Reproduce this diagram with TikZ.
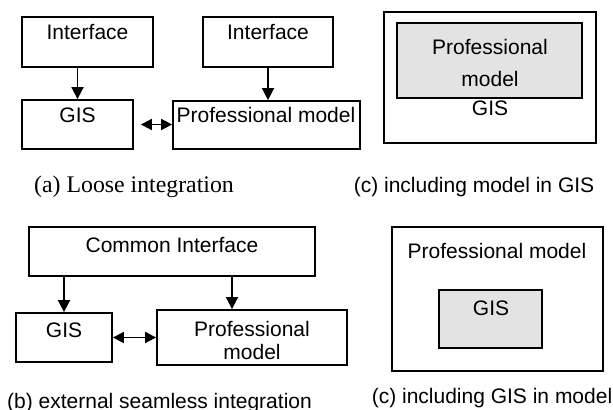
\documentclass[tikz,border=0pt]{standalone}
\usepackage{fontspec}
\setmainfont{Liberation Sans}
\newfontfamily\timesfont{Liberation Serif}
\usepackage{xcolor}
\usetikzlibrary{arrows.meta}

\begin{document}
\begin{tikzpicture}[x=0.5pt,y=-0.5pt,
  box/.style={draw,line width=0.9pt,inner sep=0pt},
  grey/.style={box,fill=black!11},
  arr/.style={line width=0.9pt,-{Triangle[length=6pt,width=6pt]}},
  dblarr/.style={line width=0.9pt,{Triangle[length=5.5pt,width=5.5pt]}-{Triangle[length=5.5pt,width=5.5pt]}},
  lbl/.style={font=\fontsize{10.5}{12}\selectfont,inner sep=0pt,align=center}]
\useasboundingbox (0,0) rectangle (613,410);

% (a) loose integration
\node[box,minimum width=65.5pt,minimum height=25pt] (ifa) at (87.5,42) {};
\node[box,minimum width=55.5pt,minimum height=24.5pt] (gisa) at (77.5,124.5) {};
\node[box,minimum width=65pt,minimum height=25pt] (ifb) at (268,42) {};
\node[box,minimum width=93.5pt,minimum height=24pt] (proa) at (266.5,125) {};
\node[lbl] (ifa-t) at (87.5,32) {Interface};
\node[lbl] (gisa-t) at (77.5,115) {GIS};
\node[lbl] (ifb-t) at (268,32) {Interface};
\node[lbl] (proa-t) at (266,115) {Professional model};
\draw[arr] (ifa.south -| gisa.north) -- (gisa.north);
\draw[arr] (ifb.south) -- (ifb.south |- proa.north);
\draw[dblarr] ([xshift=3.5pt]gisa.east) -- (proa.west |- gisa.east);
\node[inner sep=0pt,font=\timesfont\fontsize{11.9}{14}\selectfont] (capa) at (134,187) {(a) Loose integration};

% (c) model in GIS
\node[box,minimum width=106pt,minimum height=65.5pt] (gisc) at (490,77.5) {};
\node[grey,minimum width=92.5pt,minimum height=37.5pt] (modc) at (489.5,60.5) {};
\node[lbl,font=\fontsize{10.5}{16}\selectfont] (modc-t) at (490,63) {Professional\\model};
\node[lbl] (gisc-t) at (490,108) {GIS};
\node[lbl] (capc) at (474,187) {(c) including model in GIS};

% (b) external seamless integration
\node[box,minimum width=143pt,minimum height=24.5pt] (ci) at (172,251.5) {};
\node[box,minimum width=48pt,minimum height=24.5pt] (gisb) at (64,337.5) {};
\node[box,minimum width=95pt,minimum height=27.5pt] (prob) at (252,337.5) {};
\coordinate (prob-in) at ([xshift=-10pt]prob.north);
\node[lbl] (ci-t) at (172,245) {Common Interface};
\node[lbl] (gisb-t) at (64,330) {GIS};
\node[lbl,font=\fontsize{10.5}{11.5}\selectfont] (prob-t) at (252,340) {Professional\\model};
\draw[arr] (ci.south -| gisb.north) -- (gisb.north);
\draw[arr] (ci.south -| prob-in) -- (prob-in);
\draw[dblarr] (gisb.east) -- (prob.west);
\node[lbl] (capb) at (159.5,403) {(b) external seamless integration};

% (c) GIS in model
\node[box,minimum width=105.5pt,minimum height=72pt] (modd) at (497.5,299) {};
\node[grey,minimum width=51.5pt,minimum height=29pt] (gisd) at (490.5,319) {};
\node[lbl] (modd-t) at (497,251) {Professional model};
\node[lbl] (gisd-t) at (491,308) {GIS};
\node[lbl] (capd) at (492,398) {(c) including GIS in model};
\end{tikzpicture}
\end{document}
